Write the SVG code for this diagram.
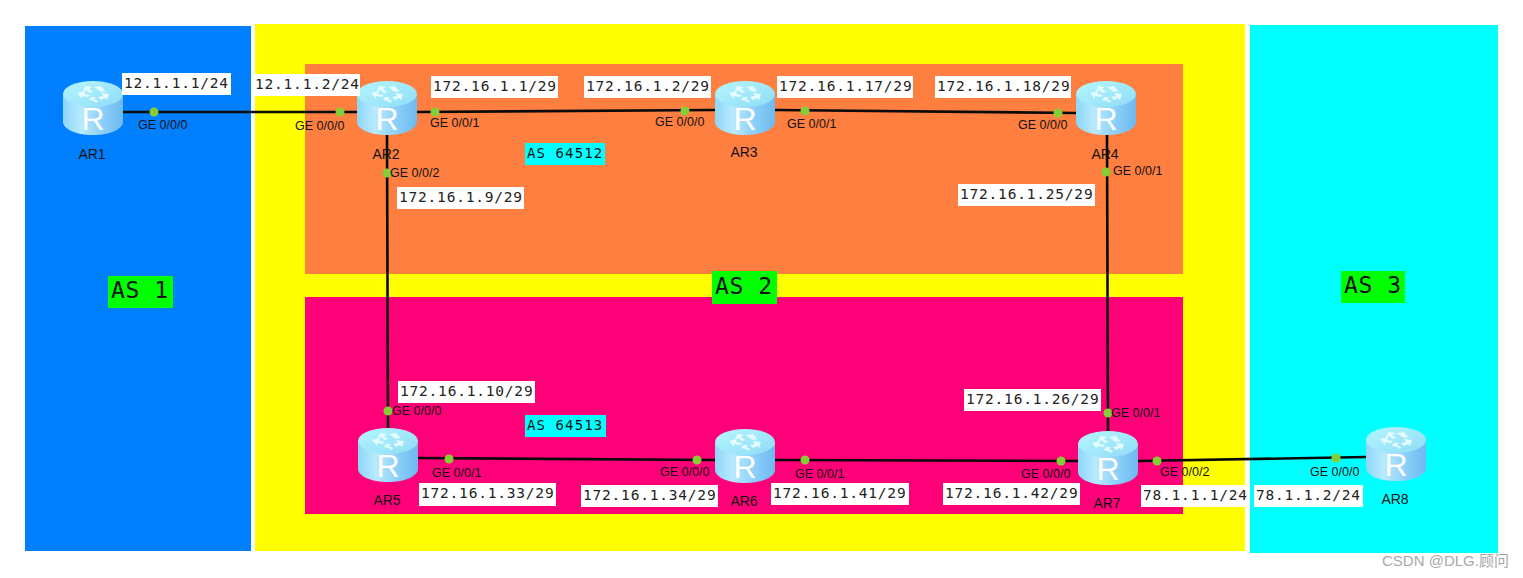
<svg xmlns="http://www.w3.org/2000/svg" width="1523" height="578" viewBox="0 0 1523 578">
<style>
.ip{font-family:"DejaVu Sans Mono","Liberation Mono",monospace;font-size:14.5px;letter-spacing:.8px;fill:#222}
.ipb{fill:#fff}
.ge{font-family:"Liberation Sans",Arial,sans-serif;font-size:12.5px;fill:#111}
.nm{font-family:"Liberation Sans",Arial,sans-serif;font-size:14px;fill:#111;text-anchor:middle}
.as{font-family:"DejaVu Sans Mono","Liberation Mono",monospace;font-size:23px;letter-spacing:.6px;fill:#111}
.as6{font-family:"DejaVu Sans Mono","Liberation Mono",monospace;font-size:14px;letter-spacing:1.1px;fill:#111}
.ln{stroke:#0a0a0a;stroke-width:2.6;fill:none}
.dot{fill:#84cf36}
.wm{font-family:"Liberation Sans","Noto Sans CJK SC",sans-serif;font-size:15px;fill:#a8a8a8}
</style>
<defs>
<linearGradient id="body" x1="0" x2="1" y1="0" y2="0"><stop offset="0" stop-color="#8ed6f8"/><stop offset=".3" stop-color="#b8eaff"/><stop offset=".65" stop-color="#8cd0fa"/><stop offset="1" stop-color="#6fb9ef"/></linearGradient>
<linearGradient id="top" x1="0" x2="1" y1="0" y2="1"><stop offset="0" stop-color="#b5f6ff"/><stop offset="1" stop-color="#8fdcf6"/></linearGradient>
<g id="router">
<path d="M0 13V41C0 48 13 54 30 54S60 48 60 41V13Z" fill="url(#body)"/>
<ellipse cx="30" cy="13" rx="30" ry="13" fill="url(#top)"/>
<path d="M22 5l7 1-3 2 4 3-3 1-4-3-3 2zM38 5l-7 1 3 2 2 2 3 1 2-1 2 1zM14 12l8-2-1 3 6 1-2 2-6-1 0 3zM46 13l-8-1 2 3-5 1 3 3 4-2 2 2zM28 16l-2 3 5 1 2 2 2-2-4-2 2-2z" fill="#e6fbff"/>
<text x="30" y="49" text-anchor="middle" font-family="Liberation Sans,Arial,sans-serif" font-size="32" fill="#fff">R</text>
</g>
</defs>
<rect width="1523" height="578" fill="#fff"/>
<g id="areas">
<rect x="25" y="26" width="226" height="525" fill="#0080ff"/>
<rect x="255" y="24" width="990" height="527" fill="#ffff00"/>
<rect x="1250" y="25" width="248" height="528" fill="#00ffff"/>
<rect x="305" y="64" width="878" height="210" fill="#ff7f40"/>
<rect x="305" y="297" width="878" height="217" fill="#ff0078"/>
</g>
<g id="connectors">
<path class="ln" d="M123 112H357"/>
<path class="ln" d="M417 112L715 110"/>
<path class="ln" d="M775 110L1076 113"/>
<path class="ln" d="M387 135L388 428"/>
<path class="ln" d="M1107 135L1108 431"/>
<path class="ln" d="M418 458L715 460"/>
<path class="ln" d="M775 460L1078 461"/>
<path class="ln" d="M1138 461L1366 457"/>
</g>
<g id="ports">
<circle class="dot" cx="154" cy="112" r="4.5"/><circle class="dot" cx="340" cy="112" r="4.5"/>
<circle class="dot" cx="435" cy="112" r="4.5"/><circle class="dot" cx="685" cy="111" r="4.5"/>
<circle class="dot" cx="805" cy="111" r="4.5"/><circle class="dot" cx="1058" cy="113" r="4.5"/>
<circle class="dot" cx="387" cy="173" r="4.5"/><circle class="dot" cx="1106" cy="172" r="4.5"/>
<circle class="dot" cx="388" cy="411" r="4.5"/><circle class="dot" cx="1108" cy="413" r="4.5"/>
<circle class="dot" cx="449" cy="459" r="4.5"/><circle class="dot" cx="697" cy="460" r="4.5"/>
<circle class="dot" cx="805" cy="460" r="4.5"/><circle class="dot" cx="1061" cy="461" r="4.5"/>
<circle class="dot" cx="1157" cy="461" r="4.5"/><circle class="dot" cx="1336" cy="458" r="4.5"/>
</g>
<g id="AR1"><use href="#router" x="63" y="81"/><text class="nm" x="92" y="159">AR1</text></g>
<g id="AR2"><use href="#router" x="357" y="81"/><text class="nm" x="386" y="159">AR2</text></g>
<g id="AR3"><use href="#router" x="715" y="81"/><text class="nm" x="744" y="157">AR3</text></g>
<g id="AR4"><use href="#router" x="1076" y="81"/><text class="nm" x="1105" y="159">AR4</text></g>
<g id="AR5"><use href="#router" x="358" y="428"/><text class="nm" x="387" y="505">AR5</text></g>
<g id="AR6"><use href="#router" x="715" y="429"/><text class="nm" x="744" y="506">AR6</text></g>
<g id="AR7"><use href="#router" x="1078" y="431"/><text class="nm" x="1107" y="508">AR7</text></g>
<g id="AR8"><use href="#router" x="1366" y="427"/><text class="nm" x="1395" y="504">AR8</text></g>
<g id="ge-labels">
<text class="ge" x="138" y="129">GE 0/0/0</text><text class="ge" x="295" y="130">GE 0/0/0</text>
<text class="ge" x="430" y="127">GE 0/0/1</text><text class="ge" x="655" y="126">GE 0/0/0</text>
<text class="ge" x="787" y="128">GE 0/0/1</text><text class="ge" x="1018" y="129">GE 0/0/0</text>
<text class="ge" x="390" y="177">GE 0/0/2</text><text class="ge" x="1113" y="175">GE 0/0/1</text>
<text class="ge" x="392" y="415">GE 0/0/0</text><text class="ge" x="1111" y="417">GE 0/0/1</text>
<text class="ge" x="432" y="477">GE 0/0/1</text><text class="ge" x="660" y="476">GE 0/0/0</text>
<text class="ge" x="795" y="478">GE 0/0/1</text><text class="ge" x="1021" y="478">GE 0/0/0</text>
<text class="ge" x="1160" y="476">GE 0/0/2</text><text class="ge" x="1310" y="476">GE 0/0/0</text>
</g>
<g id="ip-labels">
<rect class="ipb" x="122" y="73" width="109" height="22"/><text class="ip" x="124" y="88">12.1.1.1/24</text>
<rect class="ipb" x="254" y="74" width="106" height="22"/><text class="ip" x="255" y="89">12.1.1.2/24</text>
<rect class="ipb" x="431" y="76" width="127" height="22"/><text class="ip" x="433" y="91">172.16.1.1/29</text>
<rect class="ipb" x="584" y="76" width="127" height="22"/><text class="ip" x="586" y="91">172.16.1.2/29</text>
<rect class="ipb" x="777" y="76" width="136" height="22"/><text class="ip" x="779" y="91">172.16.1.17/29</text>
<rect class="ipb" x="935" y="76" width="136" height="22"/><text class="ip" x="937" y="91">172.16.1.18/29</text>
<rect class="ipb" x="397" y="187" width="127" height="22"/><text class="ip" x="399" y="202">172.16.1.9/29</text>
<rect class="ipb" x="958" y="184" width="137" height="22"/><text class="ip" x="960" y="199">172.16.1.25/29</text>
<rect class="ipb" x="398" y="381" width="137" height="22"/><text class="ip" x="400" y="396">172.16.1.10/29</text>
<rect class="ipb" x="964" y="389" width="137" height="22"/><text class="ip" x="966" y="404">172.16.1.26/29</text>
<rect class="ipb" x="419" y="483" width="137" height="23"/><text class="ip" x="421" y="498">172.16.1.33/29</text>
<rect class="ipb" x="581" y="485" width="137" height="22"/><text class="ip" x="583" y="500">172.16.1.34/29</text>
<rect class="ipb" x="771" y="483" width="138" height="22"/><text class="ip" x="773" y="498">172.16.1.41/29</text>
<rect class="ipb" x="943" y="483" width="137" height="22"/><text class="ip" x="945" y="498">172.16.1.42/29</text>
<rect class="ipb" x="1141" y="485" width="108" height="22"/><text class="ip" x="1143" y="500">78.1.1.1/24</text>
<rect class="ipb" x="1254" y="485" width="109" height="22"/><text class="ip" x="1256" y="500">78.1.1.2/24</text>
</g>
<g id="as-labels">
<rect x="525" y="143" width="80" height="22" fill="#00ffff"/><text class="as6" x="527" y="158">AS 64512</text>
<rect x="525" y="415" width="81" height="22" fill="#00ffff"/><text class="as6" x="527" y="430">AS 64513</text>
<rect x="108" y="276" width="65" height="32" fill="#00ff00"/><text class="as" x="111" y="298">AS 1</text>
<rect x="712" y="271" width="65" height="33" fill="#00ff00"/><text class="as" x="715" y="294">AS 2</text>
<rect x="1341" y="271" width="64" height="32" fill="#00ff00"/><text class="as" x="1344" y="293">AS 3</text>
</g>
<text class="wm" x="1382" y="566">CSDN @DLG.顾问</text>
</svg>
